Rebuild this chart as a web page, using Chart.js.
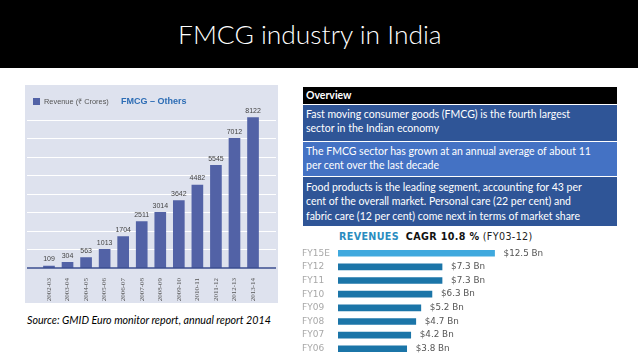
<!DOCTYPE html>
<html>
<head>
<meta charset="utf-8">
<script src="https://cdn.jsdelivr.net/npm/chart.js@4"></script>
<style>
  body { margin: 0; width: 638px; height: 359px; background: #fff; position: relative; overflow: hidden; font-family: Lato, sans-serif; }
  #header { position: absolute; left: 0; top: 0; width: 638px; height: 68px; background: #000; }
  #title { position: absolute; left: 178px; top: 18px; color: #fff; font: 300 26.4px Lato, sans-serif; white-space: nowrap; }
  #revPanel { position: absolute; left: 25px; top: 85px; width: 253px; height: 218px; }
  #legBox { position: absolute; left: 33px; top: 98px; width: 7px; height: 7px; background: #5262a6; }
  #legText { position: absolute; left: 44px; top: 96px; font: 7.4px 'Liberation Sans Narrow', sans-serif; color: #555; white-space: nowrap; }
  #legTitle { position: absolute; left: 121px; top: 96px; font: bold 9px 'Liberation Sans Narrow', sans-serif; color: #2d6db5; white-space: nowrap; }
  #source { position: absolute; left: 27px; top: 313px; font: italic 10.7px Lato, sans-serif; color: #000; white-space: nowrap; }
  #overview { position: absolute; left: 303px; top: 87px; width: 314px; font: 10.5px Lato, sans-serif; color: #fff; }
  #overview div { padding: 1px 3px; line-height: 14.3px; white-space: nowrap; border-bottom: 1px solid #fff; }
  #overview .hd { background: #000; font-weight: bold; height: 15px; }
  #overview .r1 { background: #2f5597; height: 33px; padding-top: 2px; }
  #overview .r2 { background: #4472c4; height: 31px; padding-top: 2px; }
  #overview .r3 { background: #2f5597; height: 45px; padding-top: 3px; border-bottom: none; }
  #cagr { position: absolute; left: 339px; top: 231px; font: 9.6px 'DejaVu Sans', sans-serif; letter-spacing: 0.35px; white-space: nowrap; color: #222; }
  #cagr .rv { color: #2a8cc0; font-weight: bold; }
  #cagr .cg { font-weight: bold; color: #111; }
  #fyPanel { position: absolute; left: 300px; top: 241px; width: 338px; height: 120px; }
</style>
</head>
<body>
<div id="header"><div id="title">FMCG industry in India</div></div>

<div id="revPanel"><canvas id="revChart" width="253" height="218"></canvas></div>
<div id="legBox"></div>
<div id="legText">Revenue (₹ Crores)</div>
<div id="legTitle">FMCG – Others</div>
<div id="source">Source: GMID Euro monitor report, annual report 2014</div>

<div id="overview">
  <div class="hd">Overview</div>
  <div class="r1">Fast moving consumer goods (FMCG) is the fourth largest<br>sector in the Indian economy</div>
  <div class="r2">The FMCG sector has grown at an annual average of about 11<br>per cent over the last decade</div>
  <div class="r3">Food products is the leading segment, accounting for 43 per<br>cent of the overall market. Personal care (22 per cent) and<br>fabric care (12 per cent) come next in terms of market share</div>
</div>

<div id="cagr"><span class="rv">REVENUES</span>&nbsp; <span class="cg">CAGR 10.8 %</span> (FY03-12)</div>
<div id="fyPanel"><canvas id="fyChart" width="338" height="120"></canvas></div>

<script>
// FMCG - Others revenue (Rs crores)
const years = ['2002-03', '2003-04', '2004-05', '2005-06', '2006-07', '2007-08',
  '2008-09', '2009-10', '2010-11', '2011-12', '2012-13', '2013-14'];
const revenue = [109, 304, 563, 1013, 1704, 2511, 3014, 3642, 4482, 5545, 7012, 8122];

// revenues in USD bn by fiscal year
const fyLabels = ['FY15E', 'FY12', 'FY11', 'FY10', 'FY09', 'FY08', 'FY07', 'FY06'];
const fyRevenue = [12.5, 7.3, 7.3, 6.3, 5.2, 4.7, 4.2, 3.8];

const panelPlugin = {
  id: 'panel',
  beforeDraw(chart) {
    const ctx = chart.ctx, y = chart.scales.y;
    ctx.save();
    ctx.fillStyle = '#dee2ee';
    ctx.fillRect(0, 0, chart.width, chart.height);
    ctx.strokeStyle = '#ffffff';
    ctx.lineWidth = 1;
    for (let v = 1000; v <= 8000; v += 1000) {
      const py = Math.round(y.getPixelForValue(v)) + 0.5;
      ctx.beginPath(); ctx.moveTo(2, py); ctx.lineTo(chart.width - 2, py); ctx.stroke();
    }
    ctx.restore();
  },
  afterDatasetsDraw(chart) {
    const ctx = chart.ctx, y = chart.scales.y;
    ctx.save();
    const py = y.getPixelForValue(0);
    ctx.strokeStyle = '#3b4e8f';
    ctx.lineWidth = 1.5;
    ctx.beginPath(); ctx.moveTo(2, py); ctx.lineTo(chart.width - 2, py); ctx.stroke();
    ctx.font = "7px 'Liberation Sans Narrow', sans-serif";
    ctx.fillStyle = '#444';
    ctx.textAlign = 'center';
    ctx.textBaseline = 'bottom';
    chart.getDatasetMeta(0).data.forEach((bar, i) => {
      ctx.fillText(revenue[i], bar.x, bar.y - 3);
    });
    ctx.restore();
  }
};

new Chart(document.getElementById('revChart'), {
  type: 'bar',
  data: {
    labels: years,
    datasets: [{
      label: 'Revenue (₹ Crores)',
      data: revenue,
      backgroundColor: '#5262a6',
      barThickness: 11
    }]
  },
  options: {
    responsive: false,
    animation: false,
    layout: { padding: { left: 14.7, right: 15.7, top: 22, bottom: 0 } },
    plugins: { legend: { display: false }, tooltip: { enabled: false } },
    scales: {
      x: {
        grid: { display: false },
        border: { display: false },
        ticks: {
          minRotation: 90, maxRotation: 90, padding: 2,
          font: { family: 'Liberation Sans Narrow', size: 7 },
          color: '#555'
        },
        afterFit(scale) { scale.height = 35; }
      },
      y: { display: false, min: 0, max: 8700 }
    }
  },
  plugins: [panelPlugin]
});

const fyLabelPlugin = {
  id: 'fyLabels',
  afterDatasetsDraw(chart) {
    const ctx = chart.ctx;
    ctx.save();
    ctx.font = "8.8px 'DejaVu Sans', sans-serif";
    ctx.fillStyle = '#555';
    ctx.textAlign = 'left';
    ctx.textBaseline = 'middle';
    chart.getDatasetMeta(0).data.forEach((bar, i) => {
      ctx.fillText('$' + fyRevenue[i].toFixed(1) + ' Bn', bar.x + 9, bar.y);
    });
    ctx.restore();
  }
};

new Chart(document.getElementById('fyChart'), {
  type: 'bar',
  data: {
    labels: fyLabels,
    datasets: [{
      data: fyRevenue,
      base: -3,
      backgroundColor: fyLabels.map((l, i) => i === 0 ? '#3fa9de' : '#1b75a8'),
      barThickness: 6
    }]
  },
  options: {
    indexAxis: 'y',
    responsive: false,
    animation: false,
    layout: { padding: { left: 2 } },
    plugins: { legend: { display: false }, tooltip: { enabled: false } },
    scales: {
      x: { display: false, min: -3, max: 26.7 },
      y: {
        grid: { display: false },
        border: { display: false },
        ticks: {
          crossAlign: 'far', padding: 0,
          font: { family: 'DejaVu Sans', size: 9 },
          color: '#a8a8a8'
        },
        afterFit(scale) { scale.width = 36; }
      }
    }
  },
  plugins: [fyLabelPlugin]
});
</script>
</body>
</html>
